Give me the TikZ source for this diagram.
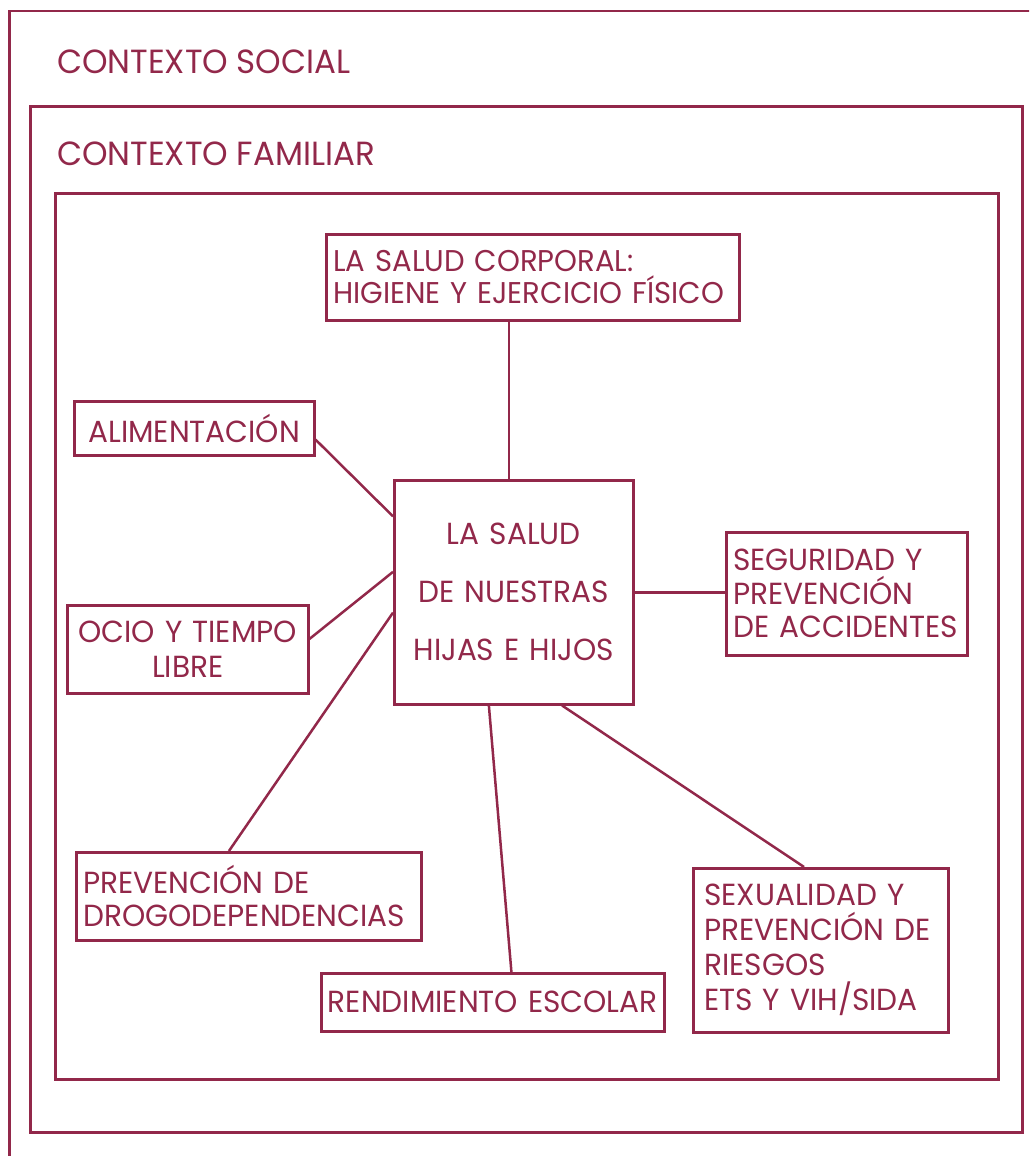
\documentclass[tikz,border=0pt]{standalone}
\usepackage{fontspec}
\setmainfont{Poppins}[FakeStretch=0.97]
\usetikzlibrary{calc}
\definecolor{wine}{RGB}{146,40,74}
\begin{document}
\begin{tikzpicture}[x=1pt,y=-1pt,
  frame/.style={draw=wine, line width=2.5pt, inner sep=0pt, anchor=north west},
  box/.style={draw=wine, line width=2.5pt, inner ysep=0pt, anchor=north west, text=wine,
    font=\fontsize{30.5}{33}\selectfont},
  ctx/.style={text=wine, inner sep=0pt, anchor=base west, font=\fontsize{33.5}{40}\selectfont},
  link/.style={draw=wine, line width=2.5pt}]
\useasboundingbox (0,0) rectangle (1029,1156);
\clip (0,0) rectangle (1029,1156);
% context frames
\node[frame, minimum width=1060pt, minimum height=1180pt] (social) at (8,10) {};
\node[frame, minimum width=992pt, minimum height=1026pt] (familiar) at (29,105) {};
\node[frame, minimum width=943pt, minimum height=886pt] (inner) at (54,192) {};
\node[ctx] (tsocial) at (57,74) {CONTEXTO SOCIAL};
\node[ctx] (tfamiliar) at (57,165) {CONTEXTO FAMILIAR};
% boxes
\node[box, minimum width=239pt, minimum height=224pt, text width=225pt, inner xsep=7pt, align=center,
  font=\fontsize{30.5}{58}\selectfont] (center) at (393,479) {LA SALUD\\DE NUESTRAS\\HIJAS E HIJOS};
\node[box, minimum width=413pt, minimum height=86pt, text width=399pt, inner xsep=7pt, align=left,
  font=\fontsize{30}{32}\selectfont] (corp) at (325,233) {LA SALUD CORPORAL:\\HIGIENE Y EJERCICIO FÍSICO};
\node[box, minimum width=240pt, minimum height=54pt, text width=226pt, inner xsep=7pt, align=center] (ali) at (73,400) {ALIMENTACIÓN};
\node[box, minimum width=241pt, minimum height=88pt, text width=227pt, inner xsep=7pt, align=center,
  font=\fontsize{30.5}{35}\selectfont] (ocio) at (66,604) {OCIO Y TIEMPO\\LIBRE};
\node[box, minimum width=241pt, minimum height=123pt, text width=227pt, inner xsep=7pt, align=left,
  font=\fontsize{30.5}{33.5}\selectfont] (seg) at (725,531) {SEGURIDAD Y\\PREVENCIÓN\\DE ACCIDENTES};
\node[box, minimum width=345pt, minimum height=88pt, text width=331pt, inner xsep=7pt, align=left,
  font=\fontsize{30.5}{33}\selectfont] (prev) at (75,851) {PREVENCIÓN DE\\DROGODEPENDENCIAS};
\node[box, minimum width=343pt, minimum height=58pt, text width=331pt, inner xsep=6pt, align=center] (rend) at (320,972) {RENDIMIENTO ESCOLAR};
\node[box, minimum width=255pt, minimum height=164pt, text width=233pt, inner xsep=11pt, align=left,
  font=\fontsize{30.5}{35}\selectfont] (sex) at (692,867) {SEXUALIDAD Y\\PREVENCIÓN DE\\RIESGOS\\ETS Y VIH/SIDA};
% connectors
\coordinate (ctop) at ($(center.north west)!0.48!(center.north east)$);
\draw[link] (ctop) -- (ctop |- corp.south);
\draw[link] ($(ali.north east)!0.7!(ali.south east)$) -- ($(center.north west)!0.165!(center.south west)$);
\draw[link] ($(ocio.north east)!0.386!(ocio.south east)$) -- ($(center.north west)!0.41!(center.south west)$);
\draw[link] ($(center.north west)!0.59!(center.south west)$) -- ($(prev.north west)!0.443!(prev.north east)$);
\draw[link] ($(center.south west)!0.397!(center.south east)$) -- ($(rend.north west)!0.554!(rend.north east)$);
\draw[link] ($(center.south west)!0.70!(center.south east)$) -- ($(sex.north west)!0.435!(sex.north east)$);
\draw[link] (center.east) -- (center.east -| seg.west);
\end{tikzpicture}
\end{document}
